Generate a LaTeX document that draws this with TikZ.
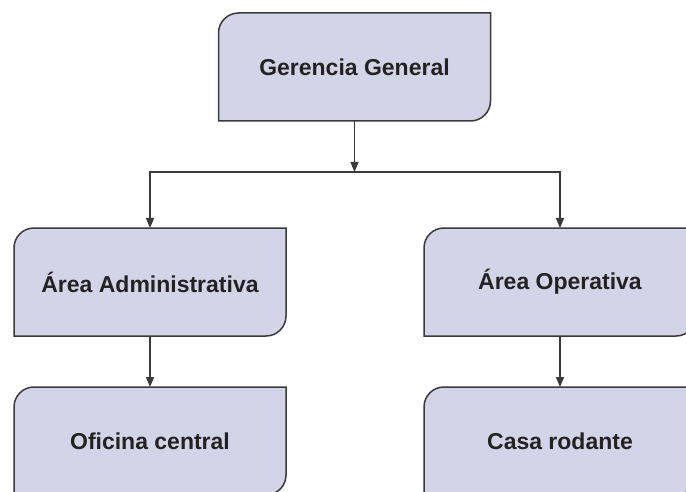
\documentclass[tikz,border=0pt]{standalone}
\usepackage{fontspec}
\setmainfont{Liberation Sans}
\usepackage{xcolor}
\usepackage{tikz}
\usetikzlibrary{arrows.meta,backgrounds}

\definecolor{boxfill}{HTML}{D4D4E8}
\definecolor{boxline}{HTML}{3A3A3A}
\definecolor{boxtext}{HTML}{222222}

% box outline: round corners top left and bottom right only
\newcommand{\unitshape}[1]{%
  \filldraw[unitline] (#1.south west) -- ([yshift=-20pt]#1.north west)
    arc[start angle=180,end angle=90,radius=20pt] -- (#1.north east)
    -- ([yshift=20pt]#1.south east)
    arc[start angle=0,end angle=-90,radius=20pt] -- cycle;}

\begin{document}
\begin{tikzpicture}[x=1pt,y=1pt,
  unit/.style={minimum width=272pt,minimum height=108pt,inner sep=0pt,outer sep=0pt,
    font=\fontsize{23}{27}\selectfont\bfseries,text=boxtext},
  unitline/.style={fill=boxfill,draw=boxline,line width=1.5pt},
  link/.style={draw=boxline,line width=1.4pt,-{Triangle[length=10pt,width=8pt]}}]
  \useasboundingbox (0,0) rectangle (686,491);
  \clip (0,0) rectangle (686,491);
  \node[unit] (gg) at (354.5,424) {Gerencia General};
  \node[unit] (adm) at (150,209) {Área Administrativa};
  \node[unit] (ope) at (560,209) {Área Operativa};
  \node[unit] (ofi) at (150,50) {Oficina central};
  \node[unit] (casa) at (560,50) {Casa rodante};
  \coordinate (split) at (354.5,319);
  \begin{scope}[on background layer]
    \clip (0,0) rectangle (686,491);
    \foreach \n in {gg,adm,ope,ofi,casa}{\unitshape{\n}}
  \end{scope}
  \draw[link] (gg) -- (split);
  \draw[link] (split) -| (adm);
  \draw[link] (split) -| (ope);
  \draw[link] (adm) -- (ofi);
  \draw[link] (ope) -- (casa);
\end{tikzpicture}
\end{document}
